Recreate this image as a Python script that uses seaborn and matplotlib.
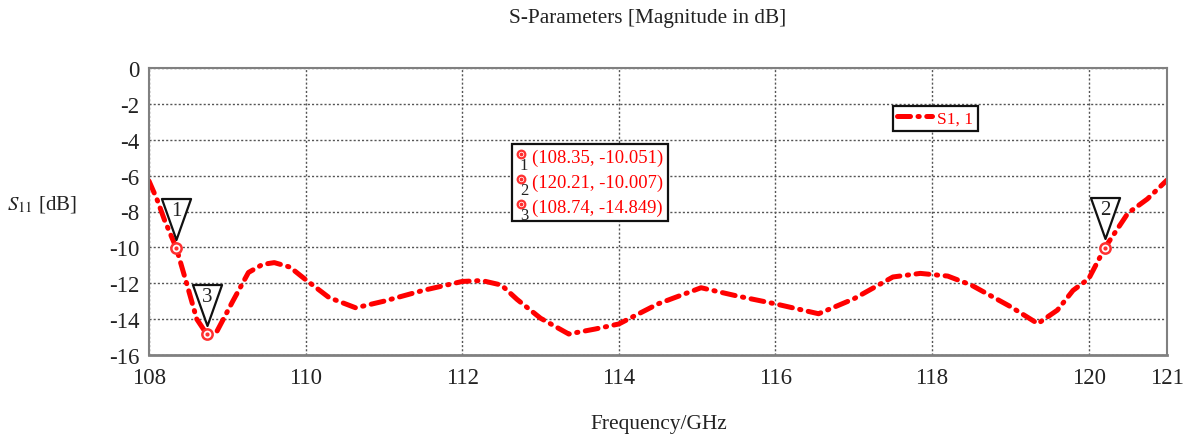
import numpy as np
import pandas as pd
import matplotlib
matplotlib.use("Agg")
import matplotlib.pyplot as plt
import matplotlib.transforms as mtransforms
from matplotlib.path import Path
from matplotlib.patches import Rectangle
import seaborn as sns

# ---------------- data ----------------
freq_ghz = [108.0, 108.1, 108.2, 108.35, 108.48, 108.61, 108.74, 108.87, 109.07, 109.27,
            109.45, 109.6, 109.8, 110.0, 110.3, 110.64, 111.0, 111.5, 112.0, 112.25,
            112.5, 112.7, 113.0, 113.36, 113.7, 114.0, 114.5, 115.05, 115.5, 116.0,
            116.55, 117.0, 117.5, 117.85, 118.2, 118.5, 119.0, 119.35, 119.6, 119.8,
            120.0, 120.21, 120.5, 120.75, 121.0]
s11_db = [-6.3, -7.3, -8.5, -10.05, -12.0, -14.0, -14.85, -14.66, -13.0, -11.4,
          -10.95, -10.85, -11.1, -11.8, -12.8, -13.37, -13.0, -12.4, -11.9, -11.85,
          -12.1, -12.9, -13.95, -14.83, -14.55, -14.27, -13.15, -12.25, -12.7, -13.15,
          -13.7, -12.87, -11.65, -11.45, -11.6, -12.1, -13.3, -14.25, -13.5, -12.4,
          -11.75, -10.0, -8.1, -7.3, -6.25]

marker_ids = ["1", "2", "3"]
marker_freq = [108.35, 120.21, 108.74]
marker_val = [-10.051, -10.007, -14.849]

x_ticks = [108, 110, 112, 114, 116, 118, 120, 121]
y_ticks = [0, -2, -4, -6, -8, -10, -12, -14, -16]
series_name = "S1, 1"

# ---------------- style ----------------
sns.set_style("white")
plt.rcParams["font.family"] = ["Liberation Serif", "DejaVu Serif"]
plt.rcParams["mathtext.fontset"] = "stix"

W, H, DPI = 1187, 439, 100
fig = plt.figure(figsize=(W / DPI, H / DPI), dpi=DPI)
ax = fig.add_axes([149 / W, 1 - 356 / H, (1167 - 149) / W, (356 - 69) / H])

df = pd.DataFrame({"Frequency": freq_ghz, "S11": s11_db})
sns.lineplot(data=df, x="Frequency", y="S11", ax=ax, color="#ff0000",
             linewidth=3.6, label=series_name, zorder=3)
line = ax.get_lines()[0]
line.set_dashes([2.6, 1.5, 0.25, 1.5])
line.set_dash_capstyle("round")

ax.set_xlim(108, 121)
ax.set_ylim(-16, 0)
ax.set_xticks(x_ticks)
ax.set_yticks(y_ticks)
ax.set_xticklabels([str(t) for t in x_ticks])
ax.set_yticklabels([str(t) for t in y_ticks])
ax.tick_params(axis="both", direction="out", length=4, width=1, color="#808080",
               labelsize=16.5, labelcolor="#222222")
ax.tick_params(axis="x", pad=5)
ax.tick_params(axis="y", pad=3)

ax.grid(True, linestyle=(0, (1.5, 1.5)), color="#555555", linewidth=1.0)
for name, sp in ax.spines.items():
    sp.set_visible(True)
    sp.set_color("#808080")
    sp.set_linewidth(2.0 if name == "bottom" else 1.5)
    sp.set_zorder(4)

# marker points
ax.scatter(marker_freq, marker_val, s=55, facecolor="white", edgecolor="#ff3030",
           linewidth=1.8, zorder=5)
ax.scatter(marker_freq, marker_val, s=4, color="#ff3030", zorder=6)

# inverted triangle flags above markers
tri = Path([(-0.355, 0.5), (0.355, 0.5), (0.0, -0.5), (-0.355, 0.5)],
           [Path.MOVETO, Path.LINETO, Path.LINETO, Path.CLOSEPOLY])
tri_trans = mtransforms.offset_copy(ax.transData, fig=fig, x=0, y=29.5, units="dots")
ax.plot(marker_freq, marker_val, linestyle="none", marker=tri, markersize=29.5,
        markerfacecolor="white", markeredgecolor="#111111", markeredgewidth=1.6,
        transform=tri_trans, zorder=7)
for mid, fx, fy in zip(marker_ids, marker_freq, marker_val):
    ax.annotate(mid, xy=(fx, fy), xytext=(0, 38 * 72 / DPI), textcoords="offset points",
                ha="center", va="center", fontsize=15, color="#222222", zorder=8)

# marker value table
bx0, bx1 = (512 - 149) / 1018, (668 - 149) / 1018
by0, by1 = (356 - 222) / 287, (356 - 145) / 287
ax.add_patch(Rectangle((bx0, by0), bx1 - bx0, by1 - by0, transform=ax.transAxes,
                       facecolor="white", edgecolor="#111111", linewidth=1.6, zorder=9))
row_y = [(356 - 158) / 287, (356 - 183) / 287, (356 - 208) / 287]
for ry, mid, fx, fy in zip(row_y, marker_ids, marker_freq, marker_val):
    ax.scatter([(521 - 149) / 1018], [ry + 3 / 287], transform=ax.transAxes, s=30,
               facecolor="white", edgecolor="#ff3030", linewidth=1.6, zorder=10)
    ax.scatter([(521 - 149) / 1018], [ry + 3 / 287], transform=ax.transAxes, s=3,
               color="#ff3030", zorder=11)
    ax.text((524 - 149) / 1018, ry - 8 / 287, mid, transform=ax.transAxes, ha="center",
            va="center", fontsize=12, color="#222222", zorder=11)
    ax.text((532 - 149) / 1018, ry, f"({fx:.2f}, {fy:.3f})", transform=ax.transAxes,
            ha="left", va="center", fontsize=13.4, color="#ff0000", zorder=11)

# legend
leg = ax.legend(loc="upper left", bbox_to_anchor=((893 - 149) / 1018, (356 - 107) / 287),
                frameon=True, fancybox=False, framealpha=1, edgecolor="#111111",
                fontsize=12.5, labelcolor="#ff0000", handlelength=2.0,
                handletextpad=0.3, borderpad=0.25, borderaxespad=0)
leg.get_frame().set_linewidth(1.6)
leg.set_zorder(12)

# labels
ax.set_xlabel("Frequency/GHz", fontsize=15.4, color="#222222")
ax.xaxis.set_label_coords((659 - 149) / 1018, (356 - 425) / 287)
ax.xaxis.label.set_va("center")
ax.set_ylabel("$S_{11}$ [dB]", fontsize=15, color="#222222", rotation=0)
ax.yaxis.set_label_coords((42 - 149) / 1018, (356 - 205) / 287)
ax.yaxis.label.set_va("center")
ax.yaxis.label.set_ha("center")
fig.text(648 / W, 1 - 18 / H, "S-Parameters [Magnitude in dB]", ha="center", va="center",
         fontsize=15.3, color="#222222")

fig.savefig("out.png", dpi=DPI)
